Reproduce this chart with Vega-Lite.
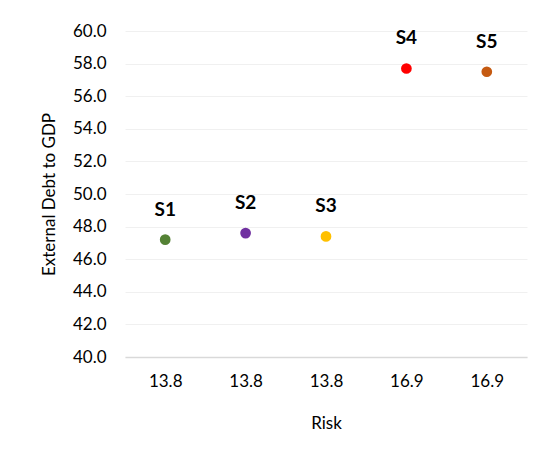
{
  "$schema": "https://vega.github.io/schema/vega-lite/v6.json",
  "width": 402,
  "height": 326,
  "autosize": {"type": "none"},
  "padding": {"left": 125, "top": 31, "right": 21, "bottom": 97},
  "background": "white",
  "config": {
    "view": {"stroke": null},
    "font": "Lato",
    "axis": {"labelFont": "Lato", "titleFont": "Lato", "labelColor": "#000000", "titleColor": "#000000", "titleFontWeight": "normal"}
  },
  "data": {
    "values": [
      {"scenario": "S1", "risk_case": "13.8 (S1)", "debt": 47.2},
      {"scenario": "S2", "risk_case": "13.8 (S2)", "debt": 47.6},
      {"scenario": "S3", "risk_case": "13.8 (S3)", "debt": 47.4},
      {"scenario": "S4", "risk_case": "16.9 (S4)", "debt": 57.7},
      {"scenario": "S5", "risk_case": "16.9 (S5)", "debt": 57.5}
    ]
  },
  "encoding": {
    "x": {
      "field": "risk_case",
      "type": "nominal",
      "sort": null,
      "scale": {"paddingInner": 0, "paddingOuter": 0},
      "axis": {
        "title": "Risk",
        "labelExpr": "split(datum.value, ' ')[0]",
        "labelAngle": 0,
        "labelFontSize": 17,
        "labelPadding": 16,
        "titleFontSize": 17,
        "titlePadding": 26,
        "ticks": false,
        "domainColor": "#d9d9d9",
        "domainWidth": 1.5
      }
    },
    "y": {
      "field": "debt",
      "type": "quantitative",
      "scale": {"domain": [40, 60], "nice": false, "zero": false},
      "axis": {
        "title": "External Debt to GDP",
        "values": [40, 42, 44, 46, 48, 50, 52, 54, 56, 58, 60],
        "format": ".1f",
        "labelFontSize": 17,
        "labelPadding": 19,
        "titleFontSize": 17,
        "titlePadding": 14,
        "ticks": false,
        "domain": false,
        "gridColor": "#f0f0f0",
        "gridWidth": 1
      }
    }
  },
  "layer": [
    {
      "mark": {"type": "point", "filled": true, "size": 115, "opacity": 1},
      "encoding": {
        "color": {
          "field": "scenario",
          "type": "nominal",
          "scale": {"domain": ["S1", "S2", "S3", "S4", "S5"], "range": ["#548235", "#7030a0", "#ffc000", "#ff0000", "#c55a11"]},
          "legend": null
        }
      }
    },
    {
      "mark": {"type": "text", "dy": -30, "fontSize": 19, "fontWeight": "bold", "font": "Lato", "color": "#000000"},
      "encoding": {"text": {"field": "scenario"}}
    }
  ]
}
